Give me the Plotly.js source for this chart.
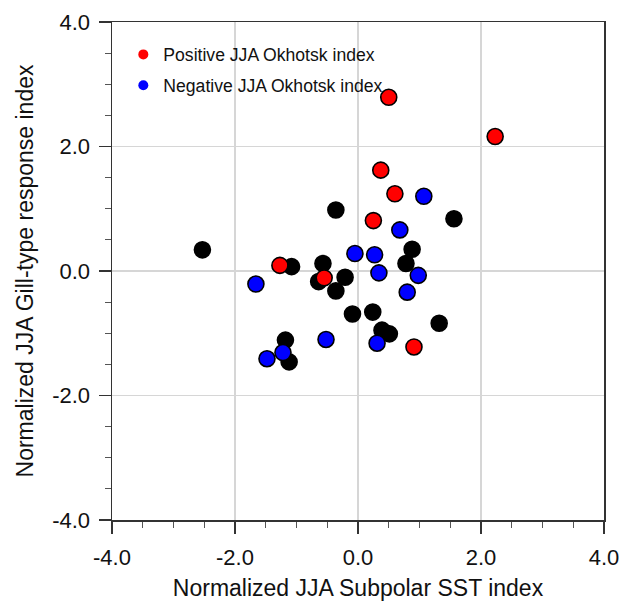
<!DOCTYPE html>
<html>
<head>
<meta charset="utf-8">
<script src="https://cdn.plot.ly/plotly-3.0.1.min.js"></script>
<style>html,body{margin:0;padding:0;background:#fff;}#chart{width:630px;height:601px;}</style>
</head>
<body>
<div id="chart"></div>
<script>
// Black (neutral) years
const blackX = [-2.53, -0.36, 1.56, 0.88, 0.78, -1.08, -0.57, -0.64, -0.21, -0.36, -0.09, 0.24, 1.32, 0.39, 0.51, -1.18, -1.12];
const blackY = [0.34, 0.98, 0.84, 0.35, 0.12, 0.07, 0.12, -0.17, -0.10, -0.32, -0.69, -0.66, -0.84, -0.95, -1.01, -1.11, -1.46];
// Negative JJA Okhotsk index years
const blueX = [1.07, 0.68, -0.05, 0.27, 0.34, 0.98, 0.80, -1.66, -0.52, 0.31, -1.22, -1.48];
const blueY = [1.20, 0.66, 0.28, 0.26, -0.03, -0.07, -0.34, -0.21, -1.10, -1.16, -1.31, -1.41];
// Positive JJA Okhotsk index years
const redX = [0.50, 2.23, 0.37, 0.60, 0.25, -1.27, -0.55, 0.91];
const redY = [2.79, 2.16, 1.62, 1.24, 0.81, 0.09, -0.11, -1.22];

const legendNames = ["Positive JJA Okhotsk index", "Negative JJA Okhotsk index"];
const tickVals = [-4, -2, 0, 2, 4];
const tickText = ["-4.0", "-2.0", "0.0", "2.0", "4.0"];

const FONT = "Liberation Sans, Arial, Helvetica, sans-serif";
const pointMarker = (c) => ({color: c, size: 16, line: {color: "#000", width: 1.6}});

const traces = [
  {x: blackX, y: blackY, mode: "markers", type: "scatter", marker: pointMarker("#000"), showlegend: false},
  {x: blueX, y: blueY, mode: "markers", type: "scatter", marker: pointMarker("#0000ff"), showlegend: false},
  {x: redX, y: redY, mode: "markers", type: "scatter", marker: pointMarker("#ff0000"), showlegend: false},
  {x: [null], y: [null], mode: "markers", type: "scatter", name: legendNames[0], legendgroup: "p",
   marker: {color: "#ff0000", size: 10, line: {width: 0}}, showlegend: true},
  {x: [null], y: [null], mode: "markers", type: "scatter", name: legendNames[1], legendgroup: "n",
   marker: {color: "#0000ff", size: 10, line: {width: 0}}, showlegend: true}
];

const axisCommon = {
  range: [-4, 4],
  tickvals: tickVals,
  ticktext: tickText,
  ticks: "outside",
  ticklen: 12,
  tickwidth: 1.5,
  tickcolor: "#333",
  showline: true,
  linecolor: "#333",
  linewidth: 1.5,
  mirror: true,
  showgrid: true,
  gridcolor: "#d6d6d6",
  gridwidth: 1.5,
  zeroline: false,
  tickfont: {family: FONT, size: 22, color: "#111"},
  minor: {dtick: 0.5, ticks: "outside", ticklen: 6, tickwidth: 1.2, tickcolor: "#555", showgrid: false},
  fixedrange: true
};

const layout = {
  width: 630,
  height: 601,
  margin: {l: 112, r: 26, t: 22, b: 81},
  paper_bgcolor: "#fff",
  plot_bgcolor: "#fff",
  font: {family: FONT, color: "#111"},
  xaxis: Object.assign({}, axisCommon, {
    title: {text: "Normalized JJA Subpolar SST index", font: {family: FONT, size: 23, color: "#111"}, standoff: 12},
    ticklabelstandoff: 5
  }),
  yaxis: Object.assign({}, axisCommon, {
    title: {text: "Normalized JJA Gill-type response index", font: {family: FONT, size: 23, color: "#111"}, standoff: 12},
    ticklabelstandoff: 4
  }),
  legend: {
    x: 0.023, y: 0.971, xanchor: "left", yanchor: "top",
    bgcolor: "rgba(0,0,0,0)",
    font: {family: FONT, size: 17.6, color: "#111"},
    tracegroupgap: 5,
    itemwidth: 30
  },
  showlegend: true
};

Plotly.newPlot("chart", traces, layout, {displayModeBar: false, staticPlot: true});
</script>
</body>
</html>
